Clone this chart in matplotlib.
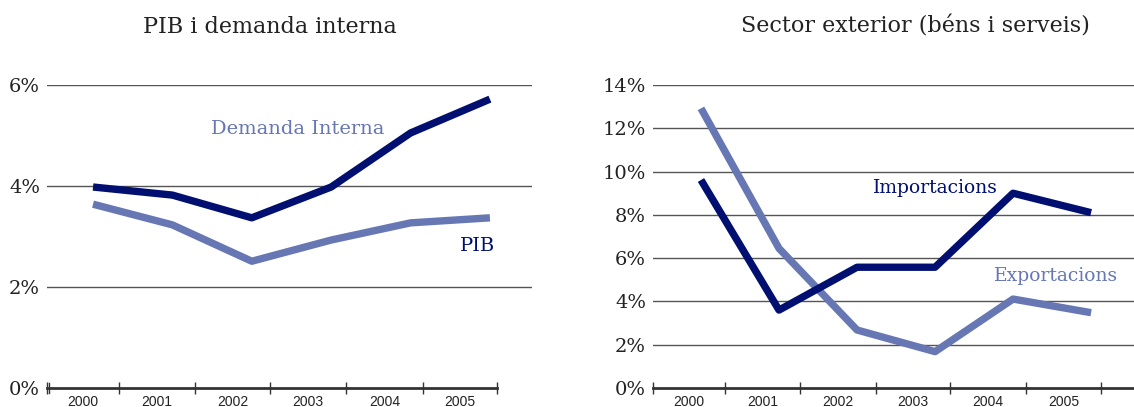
import numpy as np
import matplotlib
matplotlib.use("Agg")
import matplotlib.pyplot as plt

# Data (percent)
years = ["2000", "2001", "2002", "2003", "2004", "2005"]
pib = [3.98, 3.82, 3.37, 3.98, 5.05, 5.72]
demanda_interna = [3.64, 3.23, 2.51, 2.93, 3.27, 3.37]
importacions = [9.61, 3.60, 5.58, 5.58, 9.00, 8.10]
exportacions = [12.92, 6.45, 2.68, 1.68, 4.11, 3.48]

DARK = "#000f70"
LIGHT = "#6677b4"
W, H = 1134, 407

fig = plt.figure(figsize=(W / 100, H / 100), dpi=100)
serif = "DejaVu Serif"
sans = "Liberation Sans"


def px_axes(left, right, bottom, top):
    return fig.add_axes([left / W, 1 - bottom / H, (right - left) / W, (bottom - top) / H])


def style_axes(ax, xlim, ymax, bounds, ylabels_step):
    x = np.arange(len(years))
    ax.set_xlim(*xlim)
    ax.set_ylim(0, ymax)
    for s in ["top", "right", "left"]:
        ax.spines[s].set_visible(False)
    ax.spines["bottom"].set_color("#333333")
    ax.spines["bottom"].set_linewidth(2.0)
    ax.spines["bottom"].set_zorder(5)
    yt = np.arange(0, ymax + 0.1, ylabels_step)
    ax.set_yticks(yt)
    ax.set_yticklabels([f"{int(v)}%" for v in yt], family=serif, fontsize=14, color="#222222")
    ax.tick_params(axis="y", length=0, pad=5)
    for v in yt[1:]:
        ax.axhline(v, color="#555555", lw=1.0, zorder=1)
    # year boundaries as ticks, year labels centered in each bin
    ax.set_xticks(bounds)
    ax.set_xticklabels([])
    ax.tick_params(axis="x", which="major", direction="inout", length=8, width=1, color="#333333")
    mids = [(bounds[i] + bounds[i + 1]) / 2 for i in range(len(years))]
    ax.set_xticks(mids, minor=True)
    ax.set_xticklabels(years, minor=True, family=sans, fontsize=10, color="#222222")
    ax.tick_params(axis="x", which="minor", length=0, pad=5)
    return x


# Left chart: PIB i demanda interna
ax1 = px_axes(47, 532, 388, 85)
left_bounds = [-0.58, 0.327, 1.285, 2.23, 3.19, 4.16, 5.09]
x = style_axes(ax1, (-0.58, 5.53), 6, left_bounds, 2)
ax1.spines["bottom"].set_bounds(-0.58, 5.09)
ax1.plot(x, demanda_interna, color=LIGHT, lw=5.3, solid_capstyle="butt", zorder=3)
ax1.plot(x, pib, color=DARK, lw=5.3, solid_capstyle="butt", zorder=4)
ax1.text(2.58, 5.13, "Demanda Interna", color=LIGHT, family=serif, fontsize=14,
         ha="center", va="center")
ax1.text(4.84, 2.81, "PIB", color=DARK, family=serif, fontsize=14, ha="center", va="center")
ax1.plot([-0.55, -0.55], [-0.1, 0.1], color="#333333", lw=1, clip_on=False)

# Right chart: Sector exterior
ax2 = px_axes(653, 1134, 388, 85)
right_bounds = [-0.615, 0.308, 1.269, 2.244, 3.19, 4.167, 5.13]
x = style_axes(ax2, (-0.615, 5.55), 14, right_bounds, 2)
ax2.plot(x, exportacions, color=LIGHT, lw=5.3, solid_capstyle="butt", zorder=3)
ax2.plot(x, importacions, color=DARK, lw=5.3, solid_capstyle="butt", zorder=4)
ax2.text(3.0, 9.24, "Importacions", color=DARK, family=serif, fontsize=13.5,
         ha="center", va="center")
ax2.text(4.55, 5.18, "Exportacions", color=LIGHT, family=serif, fontsize=13.5,
         ha="center", va="center")

# Titles
fig.text(270 / W, 1 - 27 / H, "PIB i demanda interna", family=serif, fontsize=16,
         ha="center", va="center", color="#222222")
fig.text(915 / W, 1 - 27 / H, "Sector exterior (béns i serveis)", family=serif, fontsize=16,
         ha="center", va="center", color="#222222")

fig.savefig("out.png", dpi=100)
